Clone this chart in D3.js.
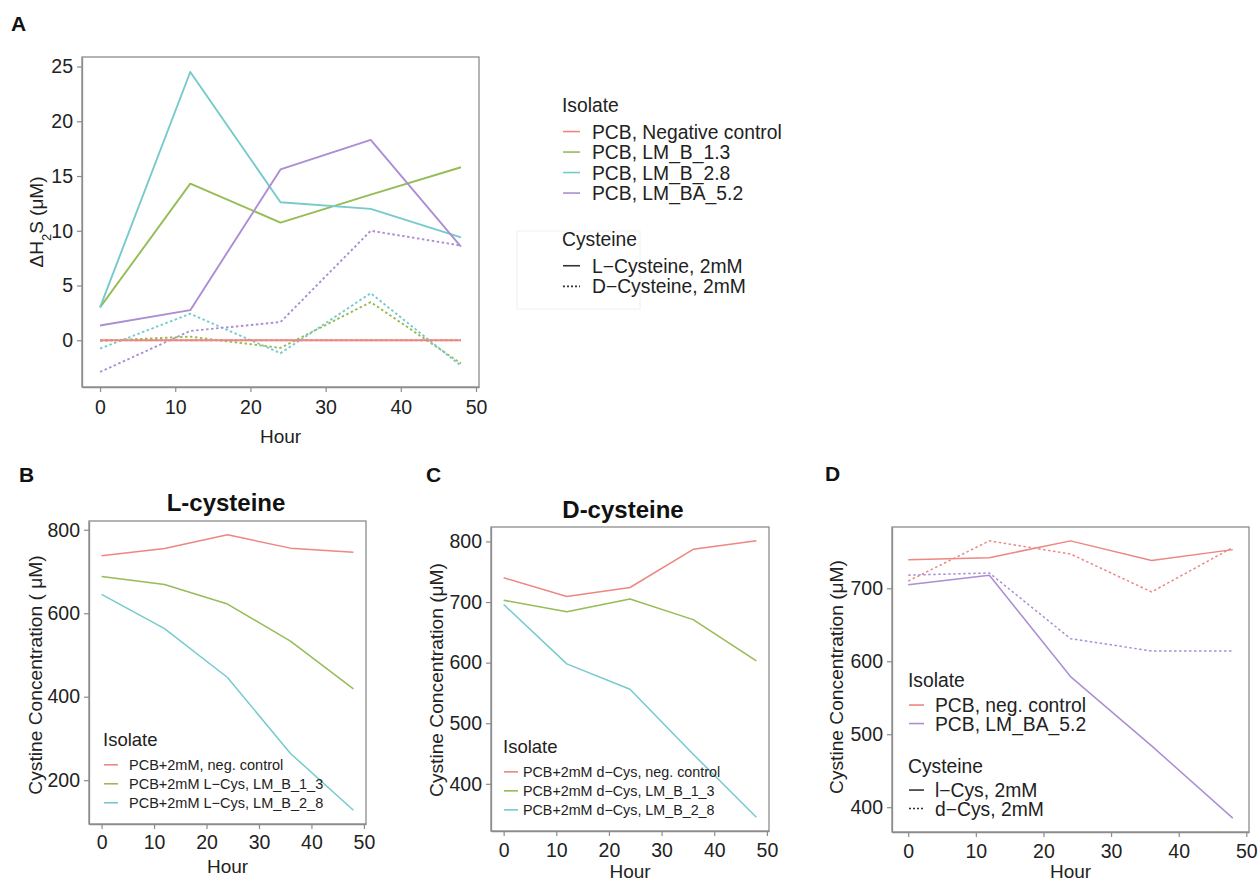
<!DOCTYPE html>
<html><head><meta charset="utf-8">
<script src="https://cdn.jsdelivr.net/npm/d3@7"></script>
<style>
body{margin:0;background:#fff;}
svg{font-family:"Liberation Sans",Arial,Helvetica,sans-serif;}
</style></head>
<body>
<svg id="chart" width="1260" height="882"></svg>
<script>
// ---------- DATA ----------
const hours = [0, 12, 24, 36, 48];

// Panel A: ΔH2S (µM)
const isolatesA = ["PCB, Negative control", "PCB, LM_B_1.3", "PCB, LM_B_2.8", "PCB, LM_BA_5.2"];
const cysteineA = ["L\u2212Cysteine, 2mM", "D\u2212Cysteine, 2mM"];
const aNegL = [0, 0, 0, 0, 0];
const aB13L = [3.0, 14.3, 10.75, 13.3, 15.8];
const aB28L = [3.0, 24.5, 12.6, 12.0, 9.4];
const aBA52L = [1.35, 2.75, 15.6, 18.3, 8.55];
const aNegD = [0, 0, 0, 0, 0];
const aB13D = [-0.05, 0.33, -0.7, 3.48, -2.12];
const aB28D = [-0.76, 2.42, -1.18, 4.3, -2.33];
const aBA52D = [-2.9, 0.85, 1.66, 10.0, 8.65];
const ticksA = [0, 5, 10, 15, 20, 25];

// Panel B: L-cysteine
const isolatesB = ["PCB+2mM, neg. control", "PCB+2mM L\u2212Cys, LM_B_1_3", "PCB+2mM L\u2212Cys, LM_B_2_8"];
const bNeg = [738, 755, 788, 756, 746];
const bB13 = [688, 669, 622, 533, 419];
const bB28 = [645, 563, 446, 264, 128];
const ticksB = [200, 400, 600, 800];

// Panel C: D-cysteine
const isolatesC = ["PCB+2mM d\u2212Cys, neg. control", "PCB+2mM d\u2212Cys, LM_B_1_3", "PCB+2mM d\u2212Cys, LM_B_2_8"];
const cNeg = [740, 709, 724, 787, 801];
const cB13 = [703, 684, 705, 671, 603];
const cB28 = [696, 598, 556, 449, 345];
const ticksC = [400, 500, 600, 700, 800];

// Panel D
const isolatesD = ["PCB, neg. control", "PCB, LM_BA_5.2"];
const cysteineD = ["l\u2212Cys, 2mM", "d\u2212Cys, 2mM"];
const dNegL = [739, 742, 765, 738, 753];
const dNegD = [710, 765, 747, 695, 756];
const dBA52L = [705, 718, 579, 484, 385];
const dBA52D = [718, 721, 631, 614, 614];
const ticksD = [400, 500, 600, 700];

const ticksX = [0, 10, 20, 30, 40, 50];

// ---------- STYLE ----------
const RED = "#EC8782", GREEN = "#96BC55", CYAN = "#76CACD", PURPLE = "#AB8ED3";
const svg = d3.select("#chart");
const AX = "#8c8c8c";

function expand(lo, hi) { const d = (hi - lo) * 0.05; return [lo - d, hi + d]; }

function panel(cfg) {
  const g = svg.append("g");
  const x = d3.scaleLinear().domain(expand(0, 48)).range([cfg.x0, cfg.x1]);
  const allv = cfg.series.flatMap(s => s.values);
  const y = d3.scaleLinear().domain(expand(d3.min(allv), d3.max(allv))).range([cfg.y1, cfg.y0]);
  g.append("rect").attr("x", cfg.x0).attr("y", cfg.y0)
    .attr("width", cfg.x1 - cfg.x0).attr("height", cfg.y1 - cfg.y0)
    .attr("fill", "none").attr("stroke", AX).attr("stroke-width", 1.3);
  const xa = g.append("g").attr("transform", `translate(0,${cfg.y1})`)
    .call(d3.axisBottom(x).tickValues(ticksX).tickSizeInner(5).tickSizeOuter(0).tickPadding(cfg.xpad || 9).tickFormat(d3.format("d")));
  const ya = g.append("g").attr("transform", `translate(${cfg.x0},0)`)
    .call(d3.axisLeft(y).tickValues(cfg.yticks).tickSizeInner(5).tickSizeOuter(0).tickPadding(4).tickFormat(d3.format("d")));
  [xa, ya].forEach(a => {
    a.select(".domain").attr("stroke", AX).attr("stroke-width", 1.3);
    a.selectAll(".tick line").attr("stroke", AX).attr("stroke-width", 1.2);
    a.selectAll(".tick text").attr("fill", "#222").style("font-size", "19.5px").attr("font-family", "Liberation Sans, Arial, sans-serif");
  });
  const line = d3.line().x((d, i) => x(hours[i])).y(d => y(d));
  cfg.series.forEach(s => {
    g.append("path").attr("d", line(s.values)).attr("fill", "none")
      .attr("stroke", s.color).attr("stroke-width", cfg.lw || 1.8)
      .attr("stroke-dasharray", s.dash ? "2.5,2.5" : null)
      .attr("stroke-linejoin", "round");
  });
  g.append("text").attr("x", (cfg.x0 + cfg.x1) / 2).attr("y", cfg.xlabY)
    .attr("text-anchor", "middle").style("font-size", "19px").attr("fill", "#222").text("Hour");
  return {g, x, y};
}

function legend(x, yTitle, title, items, fs, tfs, rowGap, keyW, textX, titleGap) {
  const g = svg.append("g");
  g.append("text").attr("x", x).attr("y", yTitle).style("font-size", tfs + "px").attr("fill", "#222").text(title);
  items.forEach((it, i) => {
    const by = yTitle + titleGap + i * rowGap;
    g.append("line").attr("x1", x + 1).attr("x2", x + 1 + keyW)
      .attr("y1", by - fs * 0.36).attr("y2", by - fs * 0.36)
      .attr("stroke", it.color).attr("stroke-width", 1.6)
      .attr("stroke-dasharray", it.dash ? "2,2" : null);
    g.append("text").attr("x", textX).attr("y", by).style("font-size", fs + "px").attr("fill", "#222").text(it.label);
  });
  return g;
}

function panelLetter(t, x, y) {
  svg.append("text").attr("x", x).attr("y", y).style("font-size", "21px").style("font-weight", "bold").attr("fill", "#111").text(t);
}
function yLabel(x, y, parts, fs) {
  const t = svg.append("text").attr("transform", `translate(${x},${y}) rotate(-90)`)
    .attr("text-anchor", "middle").style("font-size", fs + "px").attr("fill", "#222");
  parts.forEach(p => {
    const ts = t.append("tspan").text(p.t);
    if (p.sub) ts.attr("baseline-shift", "sub").style("font-size", "13px");
  });
}
function title(t, x, y) {
  svg.append("text").attr("x", x).attr("y", y).attr("text-anchor", "middle")
    .style("font-size", "24px").style("font-weight", "bold").attr("fill", "#111").text(t);
}

// ---------- PANEL A ----------
panelLetter("A", 11, 31);
panel({
  x0: 82, x1: 479, y0: 57, y1: 387, yticks: ticksA, xlabY: 443, lw: 1.9, xpad: 8,
  series: [
    {values: aNegD, color: RED, dash: true},
    {values: aB13D, color: GREEN, dash: true},
    {values: aB28D, color: CYAN, dash: true},
    {values: aBA52D, color: PURPLE, dash: true},
    {values: aNegL, color: RED},
    {values: aB13L, color: GREEN},
    {values: aB28L, color: CYAN},
    {values: aBA52L, color: PURPLE}
  ]
});
yLabel(43, 222, [{t: "\u0394H"}, {t: "2", sub: true}, {t: "S (\u03BCM)"}], 19);
legend(562, 112, "Isolate",
  isolatesA.map((l, i) => ({label: l, color: [RED, GREEN, CYAN, PURPLE][i]})),
  19.3, 19.3, 20.5, 17, 592, 26.5);
svg.append("rect").attr("x", 517).attr("y", 231).attr("width", 123).attr("height", 78)
  .attr("fill", "none").attr("stroke", "#f0f0f0").attr("stroke-width", 1);
legend(562, 246, "Cysteine",
  cysteineA.map((l, i) => ({label: l, color: "#333", dash: i === 1})),
  19.3, 19.3, 20.6, 17, 592, 26.7);

// ---------- PANEL B ----------
panelLetter("B", 19, 482);
title("L-cysteine", 226, 511);
panel({
  x0: 89, x1: 366, y0: 521, y1: 824, yticks: ticksB, xlabY: 873, lw: 1.5, xpad: 6,
  series: [
    {values: bNeg, color: RED},
    {values: bB13, color: GREEN},
    {values: bB28, color: CYAN}
  ]
});
yLabel(42, 675, [{t: "Cystine Concentration ( \u03BCM)"}], 19.2);
legend(103, 746, "Isolate",
  isolatesB.map((l, i) => ({label: l, color: [RED, GREEN, CYAN][i]})),
  14.5, 18.5, 19, 14, 129, 24);

// ---------- PANEL C ----------
panelLetter("C", 426, 482);
title("D-cysteine", 623, 518);
panel({
  x0: 491, x1: 769, y0: 527, y1: 831, yticks: ticksC, xlabY: 878, lw: 1.5, xpad: 7,
  series: [
    {values: cNeg, color: RED},
    {values: cB13, color: GREEN},
    {values: cB28, color: CYAN}
  ]
});
yLabel(443, 680, [{t: "Cystine Concentration (\u03BCM)"}], 19.2);
legend(503, 753, "Isolate",
  isolatesC.map((l, i) => ({label: l, color: [RED, GREEN, CYAN][i]})),
  14.3, 18.5, 19, 14, 523, 24);

// ---------- PANEL D ----------
panelLetter("D", 825, 481);
panel({
  x0: 892, x1: 1249, y0: 527, y1: 832, yticks: ticksD, xlabY: 878, lw: 1.5, xpad: 7,
  series: [
    {values: dNegD, color: RED, dash: true},
    {values: dBA52D, color: PURPLE, dash: true},
    {values: dNegL, color: RED},
    {values: dBA52L, color: PURPLE}
  ]
});
yLabel(843, 677, [{t: "Cystine Concentration (\u03BCM)"}], 19.2);
legend(908, 687, "Isolate",
  isolatesD.map((l, i) => ({label: l, color: [RED, PURPLE][i]})),
  19.3, 19.3, 18.5, 15, 935, 25);
legend(908, 773, "Cysteine",
  cysteineD.map((l, i) => ({label: l, color: "#333", dash: i === 1})),
  19.3, 19.3, 18.5, 15, 935, 24);
</script>
</body></html>
